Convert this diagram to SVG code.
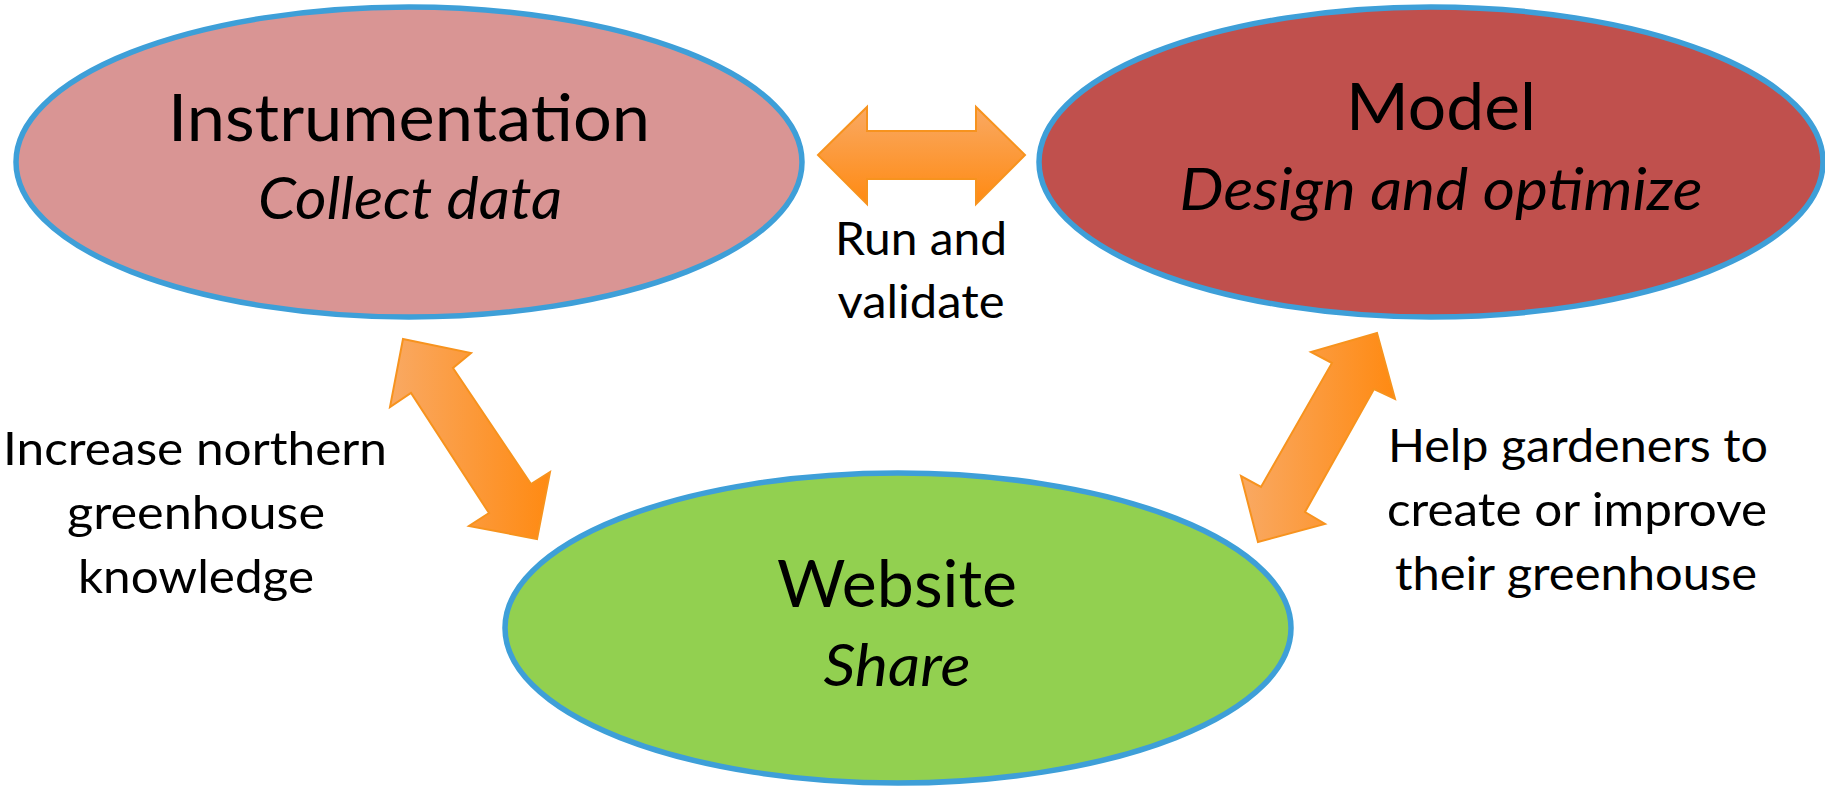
<svg xmlns="http://www.w3.org/2000/svg" width="1825" height="786" viewBox="0 0 1825 786">
  <defs>
    <style>
      .node { stroke: #3E9FD8; stroke-width: 5.5; }
      .title { font-family: Lato, "Open Sans", "Liberation Sans", sans-serif; font-size: 66px; fill: #000; text-anchor: middle; }
      .sub { font-family: Lato, "Open Sans", "Liberation Sans", sans-serif; font-size: 58px; font-style: italic; fill: #000; text-anchor: middle; }
      .label { font-family: Lato, "Open Sans", "Liberation Sans", sans-serif; font-size: 47px; fill: #000; text-anchor: middle; }
      .arrow { stroke: #F7931E; stroke-width: 2; stroke-linejoin: miter; }
    </style>
    <!-- orange fill, light to dark across the arrow -->
    <linearGradient id="gradH" gradientUnits="userSpaceOnUse" x1="0" y1="107" x2="0" y2="204">
      <stop offset="0" stop-color="#F9A963"/>
      <stop offset="1" stop-color="#FF8A12"/>
    </linearGradient>
    <linearGradient id="gradD" x1="0" y1="0" x2="1" y2="0">
      <stop offset="0" stop-color="#F9A963"/>
      <stop offset="1" stop-color="#FF8A12"/>
    </linearGradient>
  </defs>

  <!-- connectors: double-headed block arrows and their labels -->
  <g id="connectors">
    <polygon id="arrow-instr-model" class="arrow" fill="url(#gradH)"
      points="818,155 867,107 867,131 976,131 976,107 1025,155 976,204 976,179 867,179 867,204"/>
    <polygon id="arrow-instr-web" class="arrow" fill="url(#gradD)"
      points="403,339 471,353 453,368 531,484 550,472 537,539 469,526 489,513 411,393 390,407"/>
    <polygon id="arrow-model-web" class="arrow" fill="url(#gradD)"
      points="1377,333 1395,399 1374,389 1305,512 1325,524 1258,542 1241,476 1261,487 1332,363 1311,352"/>
    <text class="label" x="921" y="255" textLength="172" lengthAdjust="spacingAndGlyphs">Run and</text>
    <text class="label" x="921" y="318" textLength="167" lengthAdjust="spacingAndGlyphs">validate</text>
    <text class="label" x="195" y="465" textLength="384" lengthAdjust="spacingAndGlyphs">Increase northern</text>
    <text class="label" x="196" y="529" textLength="258" lengthAdjust="spacingAndGlyphs">greenhouse</text>
    <text class="label" x="196" y="593" textLength="236" lengthAdjust="spacingAndGlyphs">knowledge</text>
    <text class="label" x="1578" y="462" textLength="380" lengthAdjust="spacingAndGlyphs">Help gardeners to</text>
    <text class="label" x="1577" y="526" textLength="380" lengthAdjust="spacingAndGlyphs">create or improve</text>
    <text class="label" x="1576" y="590" textLength="362" lengthAdjust="spacingAndGlyphs">their greenhouse</text>
  </g>

  <g id="instrumentation">
    <ellipse class="node" cx="409" cy="162" rx="393" ry="155" fill="#D99594"/>
    <text class="title" x="409" y="141" textLength="482" lengthAdjust="spacingAndGlyphs">Instrumentation</text>
    <text class="sub" x="410" y="219" textLength="304" lengthAdjust="spacingAndGlyphs">Collect data</text>
  </g>

  <g id="model">
    <ellipse class="node" cx="1431" cy="162" rx="392" ry="155" fill="#C0504D"/>
    <text class="title" x="1441" y="130" textLength="190" lengthAdjust="spacingAndGlyphs">Model</text>
    <text class="sub" x="1441" y="210" textLength="523" lengthAdjust="spacingAndGlyphs">Design and optimize</text>
  </g>

  <g id="website">
    <ellipse class="node" cx="898" cy="628" rx="393" ry="155" fill="#92D050"/>
    <text class="title" x="897" y="607" textLength="240" lengthAdjust="spacingAndGlyphs">Website</text>
    <text class="sub" x="897" y="686" textLength="147" lengthAdjust="spacingAndGlyphs">Share</text>
  </g>
</svg>
